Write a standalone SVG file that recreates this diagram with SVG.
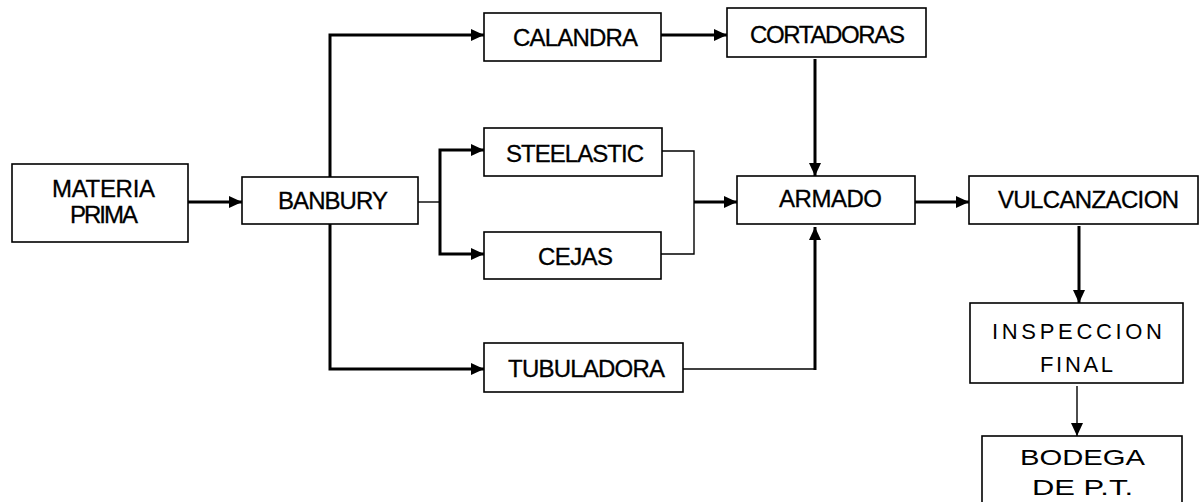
<svg xmlns="http://www.w3.org/2000/svg" width="1199" height="502" viewBox="0 0 1199 502">
<style>
.box{fill:#fff;stroke:#000;stroke-width:1.6}
.t{font-family:"Liberation Sans",Arial,sans-serif;font-size:24px;fill:#000;text-anchor:middle;stroke:#000;stroke-width:0.3}
.n{font-family:"Liberation Sans",Arial,sans-serif;font-size:22px;fill:#000;text-anchor:middle}
.thick{fill:none;stroke:#000;stroke-width:3}
.thin{fill:none;stroke:#000;stroke-width:1.4}
</style>
<defs>
<marker id="ah" markerUnits="userSpaceOnUse" markerWidth="13" markerHeight="12" refX="13" refY="6" orient="auto">
<path d="M0,0 L13,6 L0,12 z" fill="#000"/>
</marker>
</defs>
<rect width="1199" height="502" fill="#fff"/>
<g id="connectors">
<path class="thick" d="M188,202 H242" marker-end="url(#ah)"/>
<path class="thick" d="M330,177 V35 H484" marker-end="url(#ah)"/>
<path class="thick" d="M330,224 V369 H484" marker-end="url(#ah)"/>
<path class="thick" d="M661,35 H727" marker-end="url(#ah)"/>
<path class="thin" d="M418,202 H440"/>
<path class="thick" d="M440,202 V150 H484" marker-end="url(#ah)"/>
<path class="thick" d="M440,202 V254 H484" marker-end="url(#ah)"/>
<path class="thin" d="M662,151 H694 V254 H661"/>
<path class="thick" d="M694,202 H737" marker-end="url(#ah)"/>
<path class="thick" d="M815,59 V176" marker-end="url(#ah)"/>
<path class="thin" d="M683,369 H815"/>
<path class="thick" d="M815,370 V227" marker-end="url(#ah)"/>
<path class="thick" d="M915,202 H969" marker-end="url(#ah)"/>
<path class="thick" d="M1079,226 V303" marker-end="url(#ah)"/>
<path class="thin" d="M1077,386 V436" marker-end="url(#ah)"/>
</g>
<g id="materia">
<rect class="box" x="12" y="164" width="176" height="78"/>
<text class="t" x="103.5" y="197" textLength="103" lengthAdjust="spacing">MATERIA</text>
<text class="t" x="104" y="223" textLength="68" lengthAdjust="spacing">PRIMA</text>
</g>
<g id="banbury">
<rect class="box" x="242" y="177" width="176" height="47"/>
<text class="t" x="333" y="209" textLength="110" lengthAdjust="spacing">BANBURY</text>
</g>
<g id="calandra">
<rect class="box" x="484" y="13" width="177" height="48"/>
<text class="t" x="575.5" y="46" textLength="125" lengthAdjust="spacing">CALANDRA</text>
</g>
<g id="cortadoras">
<rect class="box" x="727" y="8" width="199" height="49"/>
<text class="t" x="827.5" y="43" textLength="155" lengthAdjust="spacing">CORTADORAS</text>
</g>
<g id="steelastic">
<rect class="box" x="484" y="128" width="178" height="48"/>
<text class="t" x="575" y="162" textLength="138" lengthAdjust="spacing">STEELASTIC</text>
</g>
<g id="cejas">
<rect class="box" x="484" y="232" width="177" height="47"/>
<text class="t" x="575.5" y="265" textLength="75" lengthAdjust="spacing">CEJAS</text>
</g>
<g id="tubuladora">
<rect class="box" x="484" y="343" width="199" height="49"/>
<text class="t" x="586.5" y="377" textLength="157" lengthAdjust="spacing">TUBULADORA</text>
</g>
<g id="armado">
<rect class="box" x="737" y="176" width="178" height="48"/>
<text class="t" x="830.5" y="207" textLength="103" lengthAdjust="spacing">ARMADO</text>
</g>
<g id="vulcanizacion">
<rect class="box" x="969" y="176" width="229" height="48"/>
<text class="t" x="1088.5" y="208" textLength="181" lengthAdjust="spacing">VULCANZACION</text>
</g>
<g id="inspeccion">
<rect class="box" x="970" y="303" width="213" height="80"/>
<text class="n" x="1077" y="339" textLength="170" lengthAdjust="spacing">INSPECCION</text>
<text class="n" x="1076.5" y="372" textLength="73" lengthAdjust="spacing">FINAL</text>
</g>
<g id="bodega">
<rect class="box" x="982" y="436" width="200" height="80"/>
<text class="n" x="1082.5" y="465" textLength="125" lengthAdjust="spacingAndGlyphs">BODEGA</text>
<text class="n" x="1082.5" y="495" textLength="101" lengthAdjust="spacingAndGlyphs">DE P.T.</text>
</g>
</svg>
